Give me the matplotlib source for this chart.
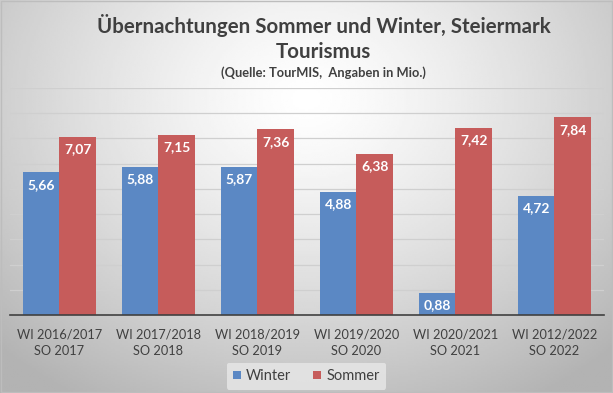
import numpy as np
import matplotlib
matplotlib.use('Agg')
import matplotlib.pyplot as plt

plt.rcParams['font.family'] = ['Lato', 'DejaVu Sans']

# data
kategorien = ['WI 2016/2017\nSO 2017', 'WI 2017/2018\nSO 2018', 'WI 2018/2019\nSO 2019',
              'WI 2019/2020\nSO 2020', 'WI 2020/2021\nSO 2021', 'WI 2012/2022\nSO 2022']
winter = [5.66, 5.88, 5.87, 4.88, 0.88, 4.72]
sommer = [7.07, 7.15, 7.36, 6.38, 7.42, 7.84]

blau = '#5b88c4'
rot = '#c65c5b'
textfarbe = '#404040'

fig = plt.figure(figsize=(6.13, 3.93), dpi=100)

# gray radial background like the office chart style
bg = fig.add_axes([0, 0, 1, 1], zorder=-10)
yy, xx = np.mgrid[0:1:200j, 0:1:300j]
r = np.sqrt(((xx - 0.5) / 0.72) ** 2 + ((yy - 0.25) / 0.9) ** 2)
shade = 1.0 - 0.3 * np.clip(r, 0, 1) ** 1.3
bg.imshow(shade, cmap='gray', vmin=0, vmax=1, extent=[0, 1, 1, 0], aspect='auto')
bg.set_xlim(0, 1)
bg.set_ylim(1, 0)
bg.axis('off')
bg.add_patch(plt.Rectangle((0.001, 0.002), 0.997, 0.995, fill=False, ec='#bdbdbd', lw=1))

ax = fig.add_axes([0.0163, 0.1985, 0.969, 0.5776])
ax.patch.set_alpha(0)

x = np.arange(len(kategorien))
b = 0.37
bars_w = ax.bar(x - b / 2, winter, b, color=blau, label='Winter', zorder=3)
bars_s = ax.bar(x + b / 2, sommer, b, color=rot, label='Sommer', zorder=3)

for bars, vals in [(bars_w, winter), (bars_s, sommer)]:
    for rect, v in zip(bars, vals):
        ax.annotate(f'{v:.2f}'.replace('.', ','),
                    (rect.get_x() + rect.get_width() / 2, v),
                    xytext=(0, -9), textcoords='offset points',
                    ha='center', va='center', color='white',
                    fontsize=10, fontweight='bold', zorder=6)

ax.set_xlim(-0.5, len(kategorien) - 0.5)
ax.set_ylim(0, 9)
ax.set_yticks(np.arange(0, 10, 1))
ax.yaxis.grid(True, color='#cfcfcf', lw=0.9, zorder=0)
ax.tick_params(axis='y', left=False, labelleft=False)
ax.tick_params(axis='x', bottom=False, colors=textfarbe, labelsize=9.2, pad=6)
ax.set_xticks(x)
ax.set_xticklabels(kategorien, linespacing=1.5)
for s in ['top', 'right', 'left']:
    ax.spines[s].set_visible(False)
ax.spines['bottom'].set_color('#404040')
ax.spines['bottom'].set_linewidth(1.2)
ax.spines['bottom'].set_zorder(5)

fig.text(0.528, 0.935, 'Übernachtungen Sommer und Winter, Steiermark', ha='center', va='center',
         fontsize=14.8, fontweight='bold', color=textfarbe)
fig.text(0.528, 0.867, 'Tourismus', ha='center', va='center',
         fontsize=14.8, fontweight='bold', color=textfarbe)
fig.text(0.528, 0.814, '(Quelle: TourMIS,  Angaben in Mio.)', ha='center', va='center',
         fontsize=9.3, fontweight='bold', color=textfarbe)

leg = fig.legend(handles=[bars_w, bars_s], loc='center', bbox_to_anchor=(0.5, 0.043),
                 ncol=2, frameon=True, fontsize=10.5, handlelength=0.55, handleheight=0.55,
                 handletextpad=0.35, columnspacing=1.5, borderpad=0.45, borderaxespad=0)
leg.get_frame().set_facecolor('#e8e8e8')
leg.get_frame().set_edgecolor('none')
leg.get_frame().set_alpha(0.8)
for t in leg.get_texts():
    t.set_color(textfarbe)

fig.savefig('out.png', dpi=100)
